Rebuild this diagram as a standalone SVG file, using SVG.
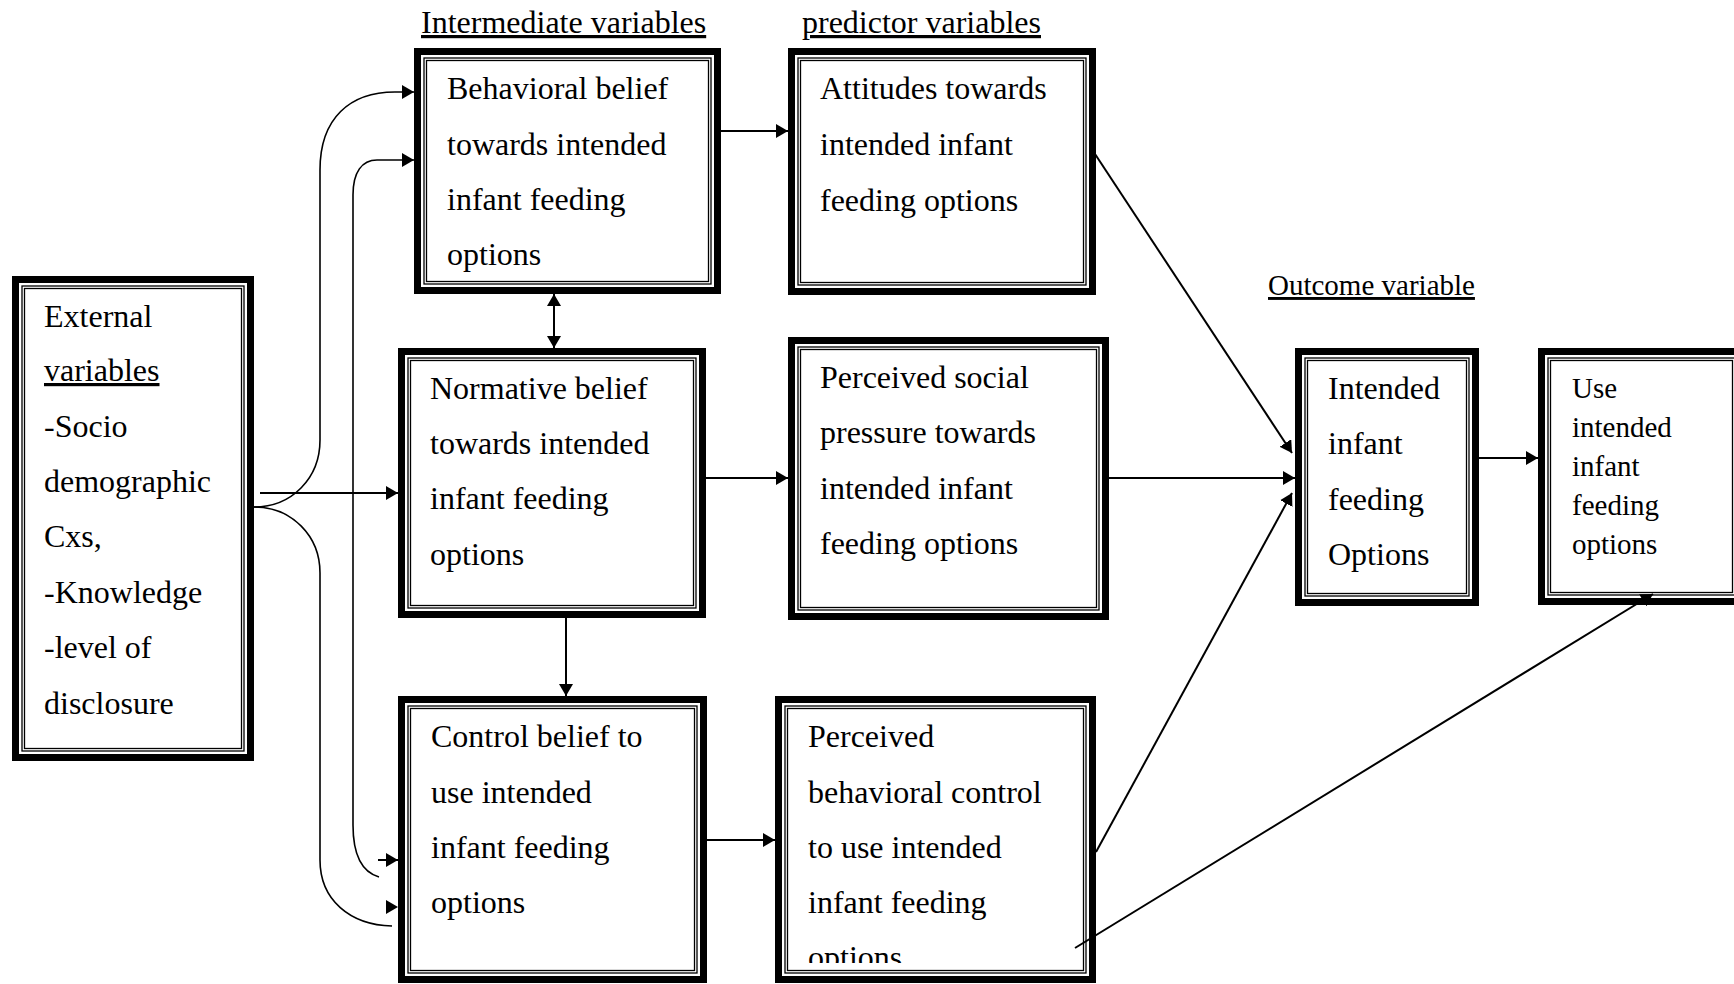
<svg xmlns="http://www.w3.org/2000/svg" width="1734" height="984" viewBox="0 0 1734 984">
<style>
.frame{fill:#fff;stroke:#000;stroke-width:7}
.thin{fill:none;stroke:#000;stroke-width:1.3}
.t{font-family:"Liberation Serif","Times New Roman",serif;font-size:32px;fill:#000}
.s{font-size:29px}
.u{text-decoration:underline}
.conn{fill:none;stroke:#000;stroke-width:2}
.curve{fill:none;stroke:#000;stroke-width:1.6}
.head{fill:#000;stroke:none}
</style>
<defs>
<marker id="arr" markerUnits="userSpaceOnUse" markerWidth="13" markerHeight="15" refX="12" refY="7" orient="auto-start-reverse">
<path d="M0,0 L12,7 L0,14 z" fill="#000"/>
</marker>
<clipPath id="pbcClip"><rect x="775" y="696" width="321" height="267"/></clipPath>
</defs>
<rect width="1734" height="984" fill="#fff"/>

<text class="t u" x="421" y="33">Intermediate variables</text>
<text class="t u" x="802" y="33">predictor variables</text>
<text class="t s u" x="1268" y="295">Outcome variable</text>

<g id="external">
<rect class="frame" x="15.5" y="279.5" width="235" height="478"/>
<rect class="thin" x="22" y="286" width="222" height="465"/>
<rect class="thin" x="24.5" y="288.5" width="217" height="460"/>
<text class="t" x="44" y="327">External</text>
<text class="t u" x="44" y="381">variables</text>
<text class="t" x="44" y="437">-Socio</text>
<text class="t" x="44" y="492">demographic</text>
<text class="t" x="44" y="547">Cxs,</text>
<text class="t" x="44" y="603">-Knowledge</text>
<text class="t" x="44" y="658">-level of</text>
<text class="t" x="44" y="714">disclosure</text>
</g>

<g id="behavioral">
<rect class="frame" x="417.5" y="51.5" width="300" height="239"/>
<rect class="thin" x="424" y="58" width="287" height="226"/>
<rect class="thin" x="426.5" y="60.5" width="282" height="221"/>
<text class="t" x="447" y="99">Behavioral belief</text>
<text class="t" x="447" y="155">towards intended</text>
<text class="t" x="447" y="210">infant feeding</text>
<text class="t" x="447" y="265">options</text>
</g>

<g id="attitudes">
<rect class="frame" x="791.5" y="51.5" width="301" height="240"/>
<rect class="thin" x="798" y="58" width="288" height="227"/>
<rect class="thin" x="800.5" y="60.5" width="283" height="222"/>
<text class="t" x="820" y="99">Attitudes towards</text>
<text class="t" x="820" y="155">intended infant</text>
<text class="t" x="820" y="211">feeding options</text>
</g>

<g id="normative">
<rect class="frame" x="401.5" y="351.5" width="301" height="263"/>
<rect class="thin" x="408" y="358" width="288" height="250"/>
<rect class="thin" x="410.5" y="360.5" width="283" height="245"/>
<text class="t" x="430" y="399">Normative belief</text>
<text class="t" x="430" y="454">towards intended</text>
<text class="t" x="430" y="509">infant feeding</text>
<text class="t" x="430" y="565">options</text>
</g>

<g id="social">
<rect class="frame" x="791.5" y="340.5" width="314" height="276"/>
<rect class="thin" x="798" y="347" width="301" height="263"/>
<rect class="thin" x="800.5" y="349.5" width="296" height="258"/>
<text class="t" x="820" y="388">Perceived social</text>
<text class="t" x="820" y="443">pressure towards</text>
<text class="t" x="820" y="499">intended infant</text>
<text class="t" x="820" y="554">feeding options</text>
</g>

<g id="intended">
<rect class="frame" x="1298.5" y="351.5" width="177" height="251"/>
<rect class="thin" x="1305" y="358" width="164" height="238"/>
<rect class="thin" x="1307.5" y="360.5" width="159" height="233"/>
<text class="t" x="1328" y="399">Intended</text>
<text class="t" x="1328" y="454">infant</text>
<text class="t" x="1328" y="510">feeding</text>
<text class="t" x="1328" y="565">Options</text>
</g>

<g id="use">
<rect class="frame" x="1541.5" y="351.5" width="200" height="250"/>
<rect class="thin" x="1548" y="358" width="187" height="237"/>
<rect class="thin" x="1550.5" y="360.5" width="182" height="232"/>
<text class="t s" x="1572" y="398">Use</text>
<text class="t s" x="1572" y="437">intended</text>
<text class="t s" x="1572" y="476">infant</text>
<text class="t s" x="1572" y="515">feeding</text>
<text class="t s" x="1572" y="554">options</text>
</g>

<g id="control">
<rect class="frame" x="401.5" y="699.5" width="302" height="280"/>
<rect class="thin" x="408" y="706" width="289" height="267"/>
<rect class="thin" x="410.5" y="708.5" width="284" height="262"/>
<text class="t" x="431" y="747">Control belief to</text>
<text class="t" x="431" y="803">use intended</text>
<text class="t" x="431" y="858">infant feeding</text>
<text class="t" x="431" y="913">options</text>
</g>

<g id="pbc">
<rect class="frame" x="778.5" y="699.5" width="314" height="280"/>
<rect class="thin" x="785" y="706" width="301" height="267"/>
<rect class="thin" x="787.5" y="708.5" width="296" height="262"/>
<text class="t" x="808" y="747">Perceived</text>
<text class="t" x="808" y="803">behavioral control</text>
<text class="t" x="808" y="858">to use intended</text>
<text class="t" x="808" y="913">infant feeding</text>
<text class="t" x="808" y="968" clip-path="url(#pbcClip)">options</text>
</g>

<g id="connectors">
<path class="conn" d="M721,131 L788,131" marker-end="url(#arr)"/>
<path class="conn" d="M554,294 L554,348" marker-start="url(#arr)" marker-end="url(#arr)"/>
<path class="conn" d="M706,478 L788,478" marker-end="url(#arr)"/>
<path class="conn" d="M566,618 L566,696" marker-end="url(#arr)"/>
<path class="conn" d="M707,840 L775,840" marker-end="url(#arr)"/>
<path class="conn" d="M260,493 L398,493" marker-end="url(#arr)"/>
<path class="curve" d="M254,507 C292,507 320,478 320,440 L320,170 C320,118 350,92 395,92 L414,92" marker-end="url(#arr)"/>
<path class="curve" d="M379,877 C362,872 353,855 353,825 L353,195 C353,172 362,160 377,160 L414,160" marker-end="url(#arr)"/>
<path class="conn" d="M378,860 L398,860" marker-end="url(#arr)"/>
<path class="curve" d="M254,507 C292,507 320,536 320,573 L320,860 C320,900 350,925 392,926"/>
<path class="head" d="M386,900 L398,907 L386,914 z"/>
<path class="conn" d="M1095,154 L1292,453" marker-end="url(#arr)"/>
<path class="conn" d="M1109,478 L1295,478" marker-end="url(#arr)"/>
<path class="conn" d="M1096,852 L1292,493" marker-end="url(#arr)"/>
<path class="conn" d="M1479,458 L1538,458" marker-end="url(#arr)"/>
<path class="conn" d="M1075,948 L1653,594" marker-end="url(#arr)"/>
</g>
</svg>
